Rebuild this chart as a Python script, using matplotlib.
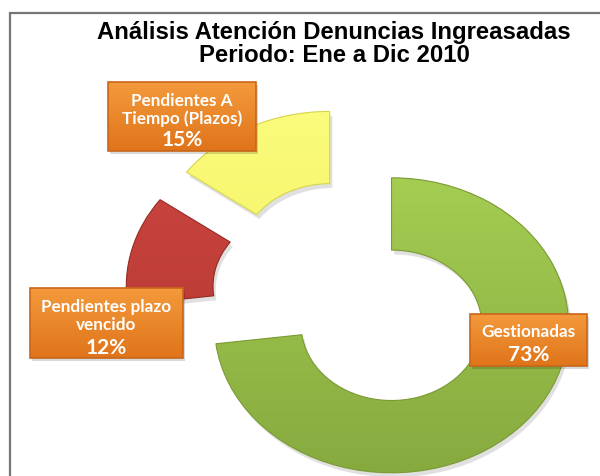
import numpy as np
import matplotlib.pyplot as plt
from matplotlib.colors import LinearSegmentedColormap
from matplotlib.patches import Rectangle, Wedge

# datos del grafico
categorias = ['Gestionadas', 'Pendientes plazo\nvencido', 'Pendientes A\nTiempo (Plazos)']
porcentajes = [73, 12, 15]
titulo = ['Análisis Atención Denuncias Ingreasadas', 'Periodo: Ene a Dic 2010']
colores_arriba = ['#a4cd52', '#cc4741', '#fbfb7c']
colores_abajo = ['#87aa3f', '#b3342f', '#f1f05c']
bordes = ['#7a9a33', '#962a26', '#d6d450']

# cajas de las etiquetas (x0, y0, x1, y1 en pixeles)
cajas = [(470, 315, 587, 367), (30, 289, 183, 359), (108, 83, 256, 152)]
y_nombre = [332, 316, 110]
y_pct = [355, 348, 140]

W, H = 600, 477
rx, ry = 177.0, 147.5
cx, cy = 353, 298

fig = plt.figure(figsize=(W / 100, H / 100), dpi=100)
ax = fig.add_axes([0, 0, 1, 1])
wedges, _ = ax.pie(porcentajes, startangle=90, counterclock=False,
                   explode=[0.29] * len(porcentajes), radius=1,
                   wedgeprops=dict(width=0.49, linewidth=0.8))
ax.set_aspect('auto')

grad = np.linspace(1, 0, 256).reshape(-1, 1)
for w, c_top, c_bot, edge in zip(wedges, colores_arriba, colores_abajo, bordes):
    # sombra suave
    sh = Wedge((w.center[0] + 0.015, w.center[1] - 0.03), w.r, w.theta1, w.theta2,
               width=w.width, facecolor='#000000', alpha=0.12, edgecolor='none', zorder=0.5)
    ax.add_patch(sh)
    w.set_facecolor('none')
    w.set_edgecolor(edge)
    w.set_zorder(2)
    x0, y0 = w.center
    cmap = LinearSegmentedColormap.from_list('g', [c_bot, c_top])
    im = ax.imshow(grad, cmap=cmap, aspect='auto', zorder=1,
                   extent=[x0 - w.r, x0 + w.r, y0 - w.r, y0 + w.r])
    im.set_clip_path(w)

ax.set_xlim(-cx / rx, (W - cx) / rx)
ax.set_ylim(-(H - cy) / ry, cy / ry)
ax.axis('off')

# capa para titulo, marco y etiquetas
ov = fig.add_axes([0, 0, 1, 1])
ov.set_xlim(0, W)
ov.set_ylim(H, 0)
ov.axis('off')
ov.patch.set_alpha(0)

ov.plot([9.5, 9.5, W], [H, 13.5, 13.5], color='#767676', lw=1.6, solid_joinstyle='miter')

for linea, yt in zip(titulo, [32, 55]):
    ov.text(334, yt, linea, ha='center', va='center', fontsize=17.2, fontweight='bold',
            family='Liberation Sans', color='#000000')

naranja = LinearSegmentedColormap.from_list('n', ['#e0741a', '#f39a3c'])
for nombre, pct, (x0, y0, x1, y1), yn, yp in zip(categorias, porcentajes, cajas, y_nombre, y_pct):
    ov.add_patch(Rectangle((x0 + 2, y0 + 3), x1 - x0, y1 - y0, facecolor='#000000',
                           alpha=0.15, edgecolor='none', zorder=3))
    ov.imshow(grad, cmap=naranja, aspect='auto', zorder=4, extent=[x0, x1, y1, y0])
    ov.add_patch(Rectangle((x0, y0), x1 - x0, y1 - y0, facecolor='none',
                           edgecolor='#c9661a', lw=1.2, zorder=5))
    xm = (x0 + x1) / 2
    ov.text(xm, yn, nombre, ha='center', va='center', fontsize=12.3, fontweight='bold',
            family='Lato', color='white', linespacing=1.1, zorder=6)
    ov.text(xm, yp, f'{pct}%', ha='center', va='center', fontsize=15, fontweight='bold',
            family='Lato', color='white', zorder=6)

ov.set_xlim(0, W)
ov.set_ylim(H, 0)

fig.savefig('out.png', dpi=100)
